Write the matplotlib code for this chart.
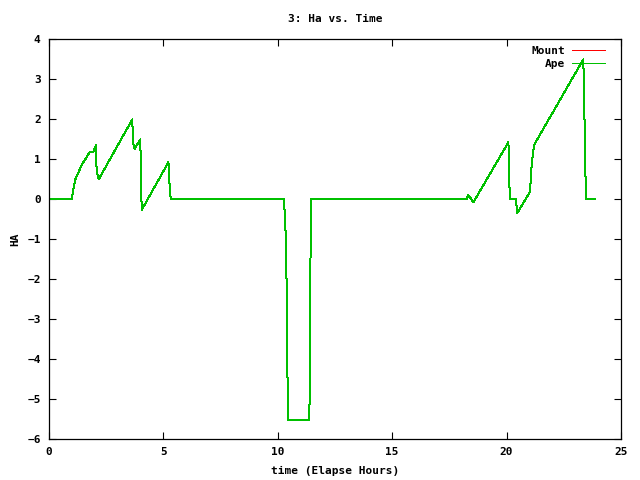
import matplotlib
matplotlib.use("Agg")
import matplotlib.pyplot as plt

# elapsed hours and hour angle
time_hours = [0.0, 0.99, 1.14, 1.43, 1.79, 1.94, 2.05, 2.08, 2.17, 3.64, 3.67, 3.74,
              3.99, 4.05, 5.22, 5.28, 5.32, 10.27, 10.29, 10.33, 10.38, 10.42, 10.46,
              11.38, 11.40, 11.43, 11.47, 18.25, 18.33, 18.55, 20.08, 20.12, 20.16,
              20.41, 20.45, 20.47, 21.02, 21.10, 21.20, 23.35, 23.39, 23.43, 23.48,
              23.88]
ha_values = [0.0, 0.0, 0.475, 0.85, 1.18, 1.18, 1.35, 0.72, 0.49, 1.99, 1.43, 1.25,
             1.49, -0.275, 0.92, 0.225, 0.0, 0.0, -0.23, -0.61, -1.98, -4.34, -5.52,
             -5.52, -4.15, -1.4, 0.0, 0.0, 0.1, -0.08, 1.42, 0.35, 0.0,
             0.0, -0.28, -0.35, 0.18, 0.89, 1.35, 3.49, 2.64, 0.89, 0.0,
             0.0]

series_names = ["Mount", "Ape"]
series_colors = ["#ff0000", "#00c000"]

font = dict(family="DejaVu Sans Mono", weight="bold", size=8)

fig = plt.figure(figsize=(6.4, 4.8), dpi=100)
ax = fig.add_axes([49 / 640, 41 / 480, 572 / 640, 400 / 480])

for name, color in zip(series_names, series_colors):
    ax.plot(time_hours, ha_values, color=color, lw=0.72, label=name,
            antialiased=False)

ax.set_xlim(0, 25)
ax.set_ylim(-6, 4)
ax.set_xticks(range(0, 26, 5))
ax.set_yticks(range(-6, 5))
ax.tick_params(direction="in", top=True, right=True, length=5, width=0.8, pad=6)
for lbl in ax.get_xticklabels() + ax.get_yticklabels():
    lbl.set_fontfamily(font["family"])
    lbl.set_fontweight("bold")
    lbl.set_fontsize(8)
for s in ax.spines.values():
    s.set_linewidth(0.9)

ax.set_title("3: Ha vs. Time", fontdict=font, pad=12)
ax.set_xlabel("time (Elapse Hours)", fontdict=font, labelpad=6)
ax.set_ylabel("HA", fontdict=font, labelpad=5)

leg = ax.legend(loc="upper right", bbox_to_anchor=(1 - 9 / 572, 1),
                frameon=False, markerfirst=False,
                prop=dict(family="DejaVu Sans Mono", weight="bold", size=8),
                handlelength=3.0, handletextpad=0.6, borderaxespad=0.2,
                labelspacing=0.3)

fig.savefig("out.png", dpi=100)
